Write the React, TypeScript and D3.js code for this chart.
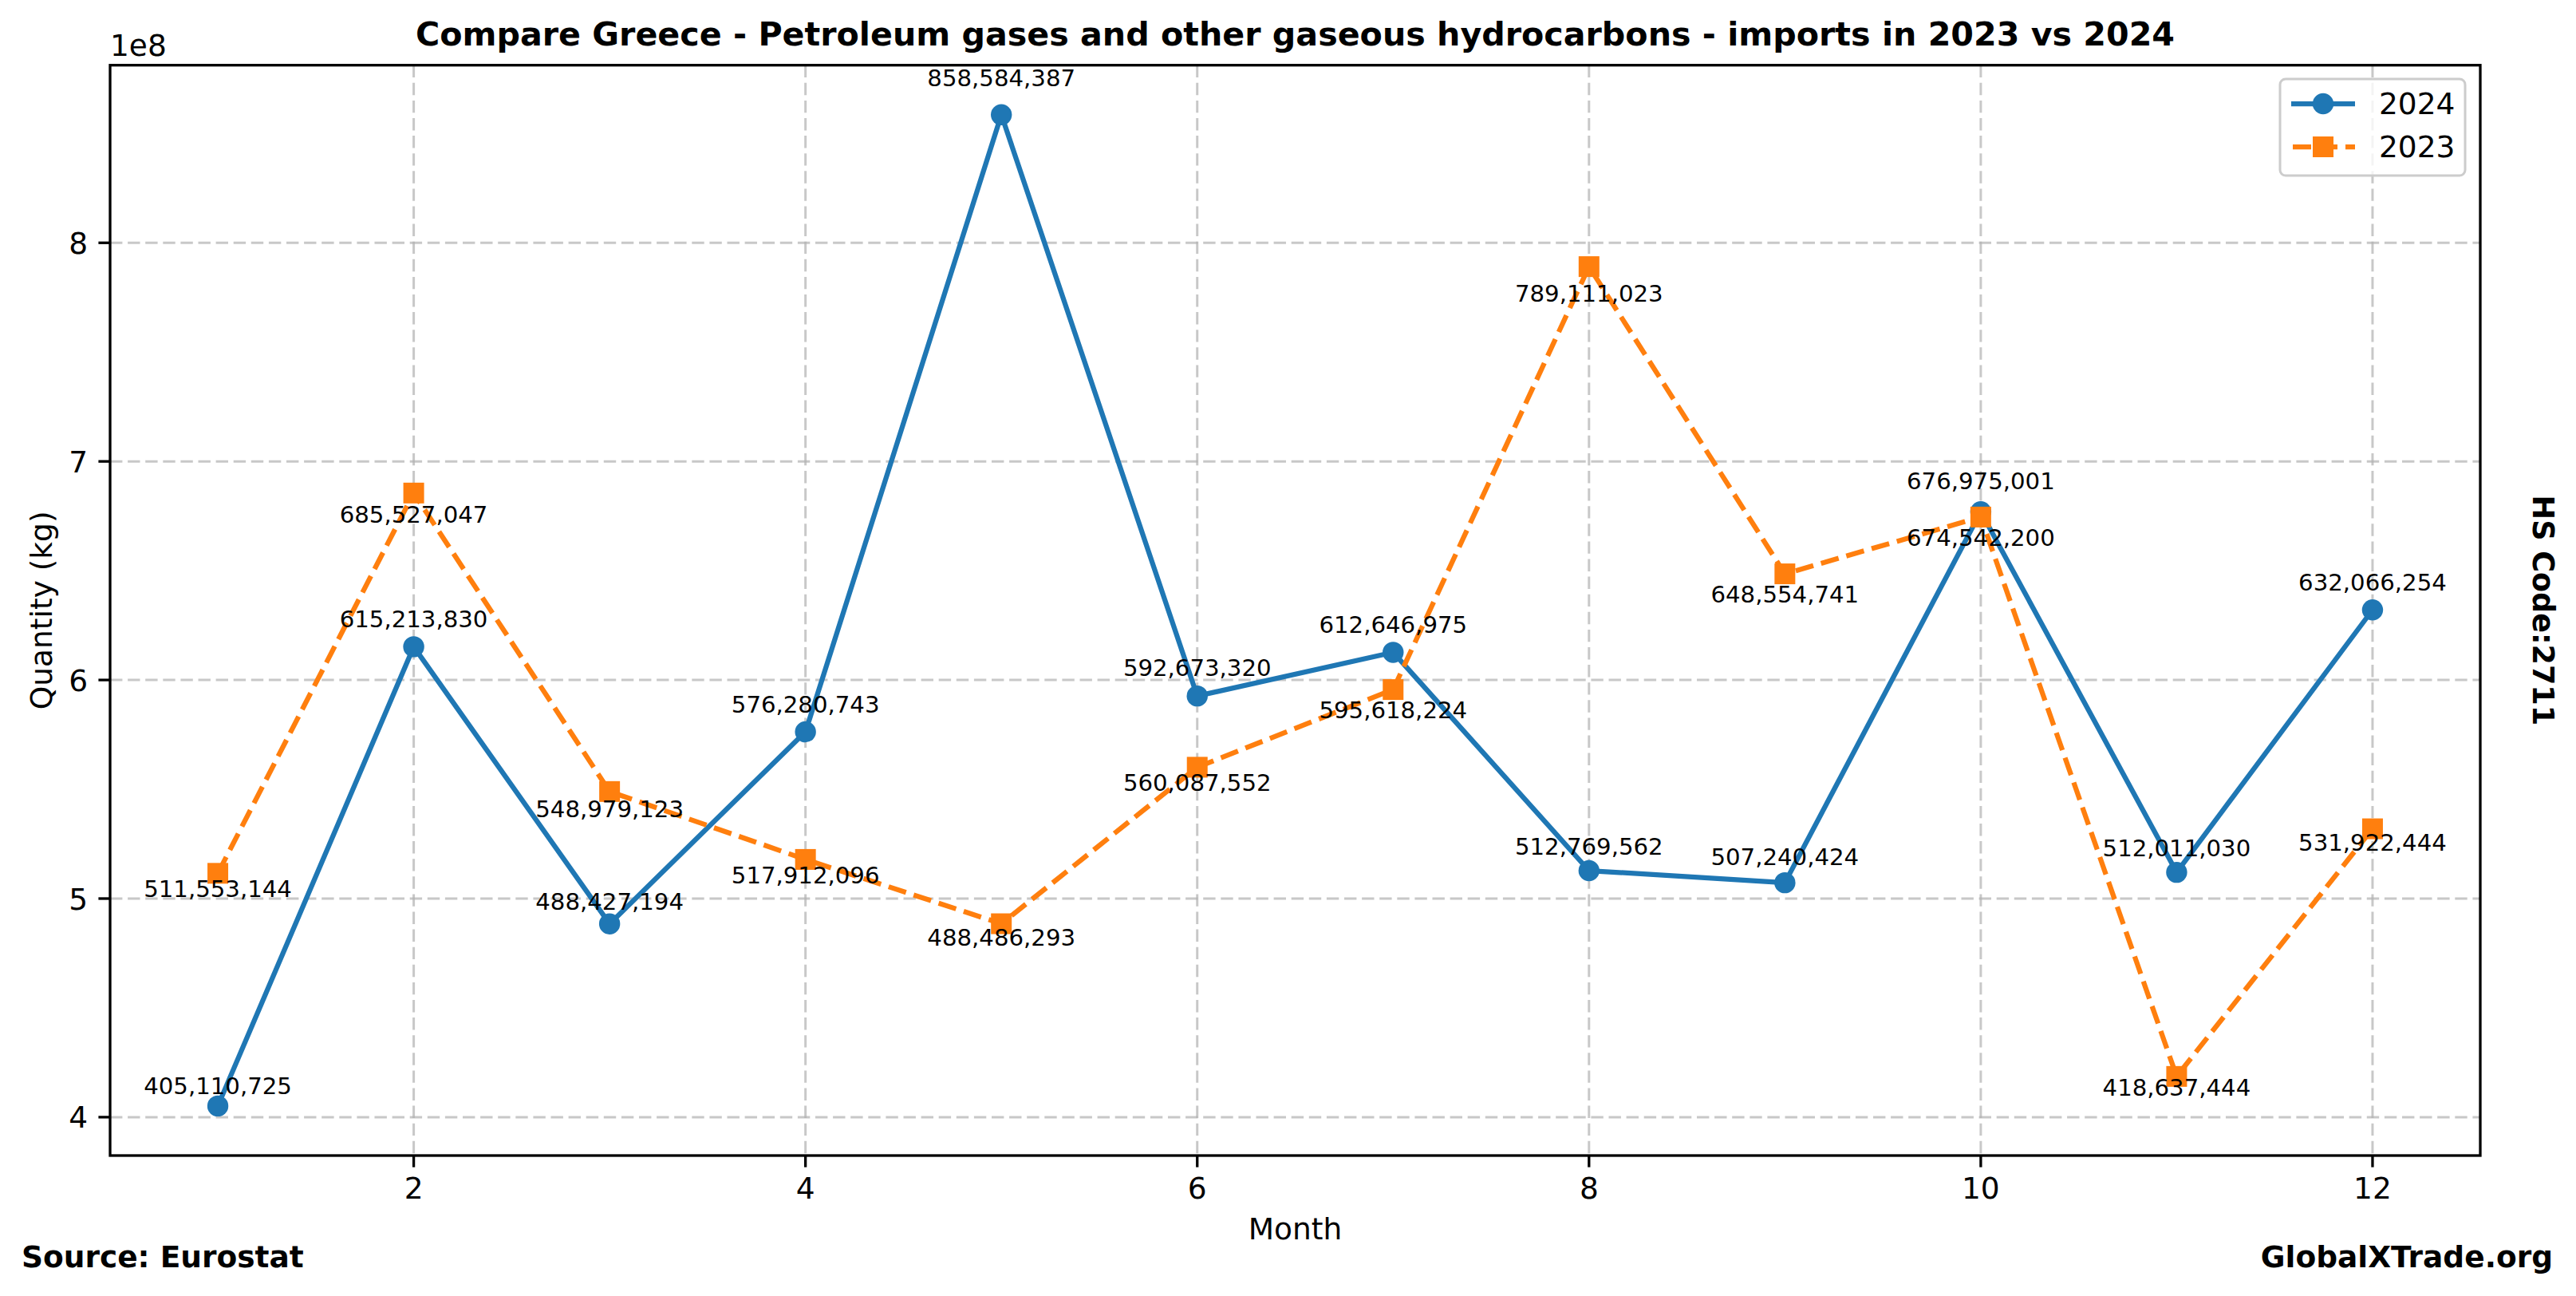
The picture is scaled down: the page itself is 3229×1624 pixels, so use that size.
import React from "react";
import * as d3 from "d3";

const months = [1, 2, 3, 4, 5, 6, 7, 8, 9, 10, 11, 12];
const values2024 = [405110725, 615213830, 488427194, 576280743, 858584387, 592673320, 612646975, 512769562, 507240424, 676975001, 512011030, 632066254];
const values2023 = [511553144, 685527047, 548979123, 517912096, 488486293, 560087552, 595618224, 789111023, 648554741, 674542200, 418637444, 531922444];
const xTicks = [2, 4, 6, 8, 10, 12];
const yTicks = [4e8, 5e8, 6e8, 7e8, 8e8];
// label baseline offsets (px) relative to the point
const labelDy2024 = [-15, -24, -18, -24, -36, -25, -24, -20, -22, -28, -20, -24];
const labelDy2023 = [30, 37, 32, 30, 27, 30, 36, 44, 36, 36, 24, 27];

const W = 3229;
const H = 1624;
const L = 138, R = 3109, T = 81.7, B = 1448;
const FONT = "DejaVu Sans, sans-serif";
const C24 = "#1f77b4";
const C23 = "#ff7f0e";
const fmt = d3.format(",");

export default function App() {
  const all = [...values2024, ...values2023];
  const mn = d3.min(all)!, mx = d3.max(all)!;
  const m = (mx - mn) * 0.05;
  const x = d3.scaleLinear().domain([1 - 11 * 0.05, 12 + 11 * 0.05]).range([L, R]);
  const y = d3.scaleLinear().domain([mn - m, mx + m]).range([B, T]);
  const line = d3.line<number>().x((_, i) => x(months[i])).y((d) => y(d));
  const tickLen = 14.6;
  const tickFont = 37.5;
  const annFont = 29.2;
  const sq = 26;

  return (
    <svg width={W} height={H} style={{ position: "absolute", left: 0, top: 0, background: "#fff" }} fontFamily={FONT}>
      <rect x={0} y={0} width={W} height={H} fill="#fff" />
      {/* grid */}
      <g stroke="#b0b0b0" strokeOpacity={0.7} strokeWidth={3} strokeDasharray="15.4,6.7">
        {xTicks.map((t) => (
          <line key={"gx" + t} x1={x(t)} x2={x(t)} y1={T} y2={B} />
        ))}
        {yTicks.map((t) => (
          <line key={"gy" + t} x1={L} x2={R} y1={y(t)} y2={y(t)} />
        ))}
      </g>
      {/* lines */}
      <path d={line(values2024)!} fill="none" stroke={C24} strokeWidth={6.25} strokeLinejoin="round" />
      <path d={line(values2023)!} fill="none" stroke={C23} strokeWidth={6.25} strokeDasharray="23,10" />
      {values2024.map((v, i) => (
        <circle key={"c" + i} cx={x(months[i])} cy={y(v)} r={13.2} fill={C24} />
      ))}
      {values2023.map((v, i) => (
        <rect key={"s" + i} x={x(months[i]) - sq / 2} y={y(v) - sq / 2} width={sq} height={sq} fill={C23} />
      ))}
      {/* annotations */}
      <g fontSize={annFont} textAnchor="middle" fill="#000">
        {values2024.map((v, i) => (
          <text key={"a" + i} x={x(months[i])} y={y(v) + labelDy2024[i]}>{fmt(v)}</text>
        ))}
        {values2023.map((v, i) => (
          <text key={"b" + i} x={x(months[i])} y={y(v) + labelDy2023[i]}>{fmt(v)}</text>
        ))}
      </g>
      {/* spines */}
      <rect x={L} y={T} width={R - L} height={B - T} fill="none" stroke="#000" strokeWidth={3.3} />
      {/* ticks */}
      <g stroke="#000" strokeWidth={3.3}>
        {xTicks.map((t) => (
          <line key={"tx" + t} x1={x(t)} x2={x(t)} y1={B} y2={B + tickLen} />
        ))}
        {yTicks.map((t) => (
          <line key={"ty" + t} x1={L - tickLen} x2={L} y1={y(t)} y2={y(t)} />
        ))}
      </g>
      <g fontSize={tickFont} fill="#000">
        {xTicks.map((t) => (
          <text key={"lx" + t} x={x(t)} y={1502} textAnchor="middle">{t}</text>
        ))}
        {yTicks.map((t) => (
          <text key={"ly" + t} x={110} y={y(t) + 13.6} textAnchor="end">{t / 1e8}</text>
        ))}
        <text x={L} y={70}>1e8</text>
        <text x={(L + R) / 2} y={1553} textAnchor="middle">Month</text>
        <text transform={`translate(65,${(T + B) / 2}) rotate(-90)`} textAnchor="middle">Quantity (kg)</text>
      </g>
      {/* title */}
      <text x={(L + R) / 2} y={57} textAnchor="middle" fontSize={41.2} fontWeight="bold">
        Compare Greece - Petroleum gases and other gaseous hydrocarbons - imports in 2023 vs 2024
      </text>
      <text transform={`translate(3175,${(T + B) / 2}) rotate(90)`} textAnchor="middle" fontSize={36.5} fontWeight="bold">HS Code:2711</text>
      <text x={27} y={1588} fontSize={37.5} fontWeight="bold">Source: Eurostat</text>
      <text x={3200} y={1588} fontSize={37.5} fontWeight="bold" textAnchor="end">GlobalXTrade.org</text>
      {/* legend */}
      <rect x={2858} y={99} width={232} height={121} rx={7} fill="#fff" fillOpacity={0.8} stroke="#cccccc" strokeWidth={3} />
      <line x1={2872} x2={2952} y1={130} y2={130} stroke={C24} strokeWidth={6.25} />
      <circle cx={2912} cy={130} r={13.2} fill={C24} />
      <line x1={2874} x2={2952} y1={184} y2={184} stroke={C23} strokeWidth={6.25} strokeDasharray="23,10" />
      <rect x={2912 - sq / 2} y={184 - sq / 2} width={sq} height={sq} fill={C23} />
      <text x={2982} y={143} fontSize={tickFont}>2024</text>
      <text x={2982} y={197} fontSize={tickFont}>2023</text>
    </svg>
  );
}
